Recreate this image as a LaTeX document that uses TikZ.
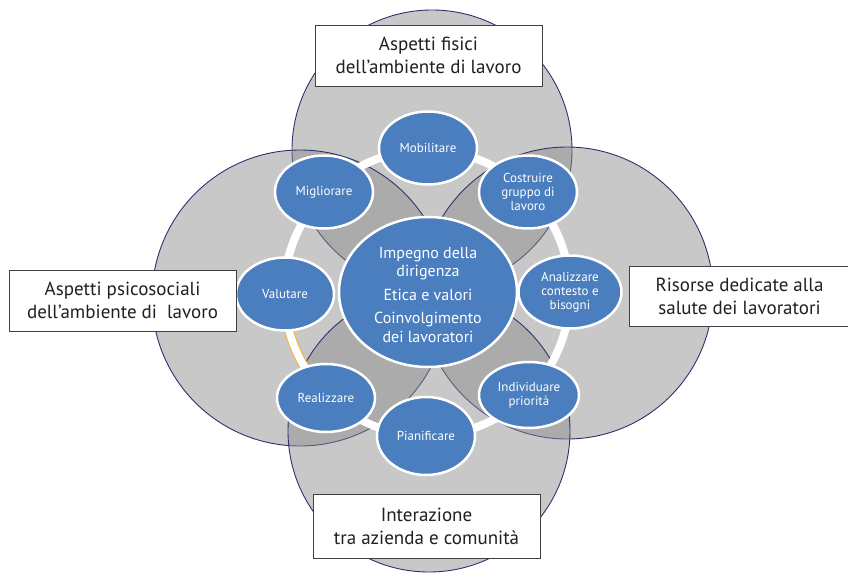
\documentclass[tikz,border=0pt]{standalone}
\usepackage{fontspec}
\setmainfont{PT Sans}
\usepackage{tikz}
\usetikzlibrary{shapes.geometric}

\begin{document}
\begin{tikzpicture}
		[x=1pt,y=-1pt,line cap=round,
		%Styles
		sphere/.style={draw=spherecolor,line width=0.9pt,fill=black!46,fill opacity=0.465},
		core/.style={ellipse,draw=white,line width=2.5pt,fill=phasecolor,text=white,
			minimum width=178pt,minimum height=150pt,inner sep=0pt,align=center,
			font=\fontsize{16}{18.5}\selectfont},
		phase/.style={ellipse,draw=white,line width=2.5pt,fill=phasecolor,text=white,
			minimum width=98pt,minimum height=73pt,inner sep=0pt,align=center,
			font=\fontsize{13}{14}\selectfont},
		area/.style={rectangle,draw=black!75,line width=0.8pt,fill=white,text=textcolor,
			minimum width=227pt,minimum height=61pt,inner sep=0pt,align=center,
			font=\fontsize{19}{23}\selectfont}
		]
		
		%Colors
		\definecolor{spherecolor}{RGB}{45,50,110}	%outline of the big circles
		\definecolor{phasecolor}{RGB}{74,126,190}	%blue ellipses
		\definecolor{textcolor}{RGB}{35,31,32}
		\definecolor{ringedge}{RGB}{245,180,40}
		
		\useasboundingbox (0,0) rectangle (848,573);
		
		%The graphic
		\draw[sphere] (432,150) circle[radius=140pt];
		\draw[sphere] (300,298) circle[radius=148pt];
		\draw[sphere] (567,293) circle[radius=146pt];
		\draw[sphere] (429,431) circle[radius=141pt];
		
		% white cycle ring
		\coordinate (hub) at (427,293);
		\draw[white,line width=8pt] (hub) circle[radius=143pt];
		\draw[ringedge,line width=9.5pt] (hub) ++(193:143pt) arc[start angle=193,end angle=210,radius=143pt];
		\draw[white,line width=7.5pt] (hub) ++(190:143pt) arc[start angle=190,end angle=213,radius=143pt];
		
		\node[core] (impegno) at (428,292) {};
		\node[text=white,align=center,font=\fontsize{16}{18.5}\selectfont] (impegnotext) at (428,294.5)
			{Impegno della\\dirigenza\\[5pt]Etica e valori\\[5pt]Coinvolgimento\\dei lavoratori};
		
		\node[phase] (mobilitare) at (428,148) {Mobilitare};
		\node[phase] (costruire) at (528,192) {Costruire\\gruppo di\\lavoro};
		\node[phase,minimum width=103pt] (analizzare) at (570,292) {Analizzare\\contesto e\\bisogni};
		\node[phase,minimum width=100pt,minimum height=66pt] (individuare) at (529,395) {Individuare\\priorità};
		\node[phase,minimum height=78pt] (pianificare) at (426,436) {Pianificare};
		\node[phase,minimum height=68pt] (realizzare) at (326,398) {Realizzare};
		\node[phase] (valutare) at (285,294) {Valutare};
		\node[phase] (migliorare) at (324,192) {Migliorare};
		
		% the four areas
		\node[area] (fisici) at (428.5,55.5) {Aspetti fisici\\dell’ambiente di lavoro};
		\node[area] (psicosociali) at (122.5,300.5) {Aspetti psicosociali\\dell’ambiente di\ \ lavoro};
		\node[area,minimum width=221pt,minimum height=60pt] (risorse) at (739.5,296) {Risorse dedicate alla\\salute dei lavoratori};
		\node[area,minimum height=64pt] (interazione) at (426.5,526) {Interazione\\tra azienda e comunità};
	\end{tikzpicture}
\end{document}
